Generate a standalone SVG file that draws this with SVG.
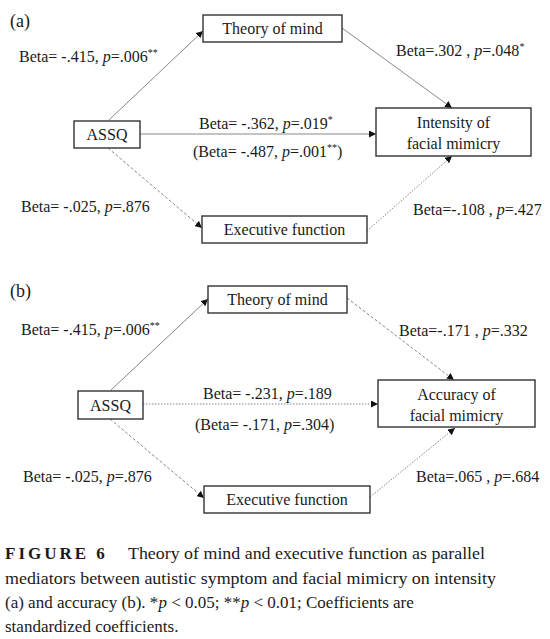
<svg xmlns="http://www.w3.org/2000/svg" width="550" height="639" viewBox="0 0 550 639">
<style>
text{font-family:'Liberation Serif','DejaVu Serif',serif;fill:#1a1a1a}
.lbl{font-size:16px}
.box{fill:#fff;stroke:#333;stroke-width:1.4}
.bt{font-size:16px;text-anchor:middle}
.ln{stroke:#888;stroke-width:1;fill:none}
.dash{stroke-dasharray:3 2}
.dot{stroke-dasharray:1.5 1.5}
.sup{font-size:10px}
.cap{font-size:17px}
</style>
<defs>
<marker id="ah" viewBox="0 0 10 10" refX="10" refY="5" markerWidth="7" markerHeight="7" markerUnits="userSpaceOnUse" orient="auto">
<path d="M0,0 L10,5 L0,10 z" fill="#111"/>
</marker>
</defs>
<g font-family="'Liberation Serif','DejaVu Serif',serif">
<text x="10" y="27" style="font-size:18px">(a)</text>
<text x="10" y="297" style="font-size:18px">(b)</text>

<g id="connectors">
<line class="ln" x1="109" y1="120" x2="203" y2="31" marker-end="url(#ah)"/>
<line class="ln" x1="342" y1="28" x2="452" y2="108" marker-end="url(#ah)"/>
<line class="ln" x1="140" y1="134" x2="376" y2="134" marker-end="url(#ah)"/>
<line class="ln dash" x1="108" y1="148" x2="202" y2="228" marker-end="url(#ah)"/>
<line class="ln dot" x1="367" y1="231" x2="452" y2="156" marker-end="url(#ah)"/>

<line class="ln" x1="111" y1="390" x2="208" y2="299" marker-end="url(#ah)"/>
<line class="ln dash" x1="347" y1="298" x2="454" y2="380" marker-end="url(#ah)"/>
<line class="ln dot" x1="143" y1="404" x2="378" y2="404" marker-end="url(#ah)"/>
<line class="ln dash" x1="110" y1="419" x2="204" y2="498" marker-end="url(#ah)"/>
<line class="ln dot" x1="370" y1="497" x2="455" y2="428" marker-end="url(#ah)"/>
</g>

<g id="a-tom"><rect class="box" x="203" y="15" width="139" height="27"/><text class="bt" x="272.5" y="34">Theory of mind</text></g>
<g id="a-assq"><rect class="box" x="74" y="121" width="66" height="27"/><text class="bt" x="107" y="140">ASSQ</text></g>
<g id="a-int"><rect class="box" x="376" y="108" width="155" height="48"/><text class="bt" x="453.5" y="128">Intensity of</text><text class="bt" x="453.5" y="149">facial mimicry</text></g>
<g id="a-ef"><rect class="box" x="202" y="216" width="165" height="27"/><text class="bt" x="284.5" y="235">Executive function</text></g>

<g id="b-tom"><rect class="box" x="208" y="286" width="139" height="27"/><text class="bt" x="277.5" y="305">Theory of mind</text></g>
<g id="b-assq"><rect class="box" x="78" y="391" width="65" height="28"/><text class="bt" x="110.5" y="411">ASSQ</text></g>
<g id="b-acc"><rect class="box" x="378" y="380" width="157" height="47"/><text class="bt" x="456.5" y="400">Accuracy of</text><text class="bt" x="456.5" y="421">facial mimicry</text></g>
<g id="b-ef"><rect class="box" x="204" y="486" width="166" height="27"/><text class="bt" x="287" y="505">Executive function</text></g>

<g id="labels">
<text class="lbl" x="19" y="62">Beta= -.415, <tspan font-style="italic">p</tspan>=.006<tspan class="sup" dy="-6">**</tspan></text>
<text class="lbl" x="396" y="56">Beta=.302 , <tspan font-style="italic">p</tspan>=.048<tspan class="sup" dy="-6">*</tspan></text>
<text class="lbl" x="199" y="129">Beta= -.362, <tspan font-style="italic">p</tspan>=.019<tspan class="sup" dy="-6">*</tspan></text>
<text class="lbl" x="193" y="157">(Beta= -.487, <tspan font-style="italic">p</tspan>=.001<tspan class="sup" dy="-6">**</tspan><tspan dy="6">)</tspan></text>
<text class="lbl" x="21" y="212">Beta= -.025, <tspan font-style="italic">p</tspan>=.876</text>
<text class="lbl" x="413" y="215">Beta=-.108 , <tspan font-style="italic">p</tspan>=.427</text>

<text class="lbl" x="21" y="335">Beta= -.415, <tspan font-style="italic">p</tspan>=.006<tspan class="sup" dy="-6">**</tspan></text>
<text class="lbl" x="399" y="336">Beta=-.171 , <tspan font-style="italic">p</tspan>=.332</text>
<text class="lbl" x="203" y="399">Beta= -.231, <tspan font-style="italic">p</tspan>=.189</text>
<text class="lbl" x="195" y="430">(Beta= -.171, <tspan font-style="italic">p</tspan>=.304)</text>
<text class="lbl" x="23" y="482">Beta= -.025, <tspan font-style="italic">p</tspan>=.876</text>
<text class="lbl" x="416" y="482">Beta=.065 , <tspan font-style="italic">p</tspan>=.684</text>
</g>

<g id="caption">
<text class="cap" x="5" y="559"><tspan font-weight="bold" letter-spacing="3">FIGURE 6</tspan></text>
<text class="cap" x="128" y="559" textLength="357" lengthAdjust="spacingAndGlyphs">Theory of mind and executive function as parallel</text>
<text class="cap" x="5" y="584" textLength="491" lengthAdjust="spacingAndGlyphs">mediators between autistic symptom and facial mimicry on intensity</text>
<text class="cap" x="5" y="608">(a) and accuracy (b). *<tspan font-style="italic">p</tspan> &lt; 0.05; **<tspan font-style="italic">p</tspan> &lt; 0.01; Coefficients are</text>
<text class="cap" x="5" y="632">standardized coefficients.</text>
</g>
</g>
</svg>
